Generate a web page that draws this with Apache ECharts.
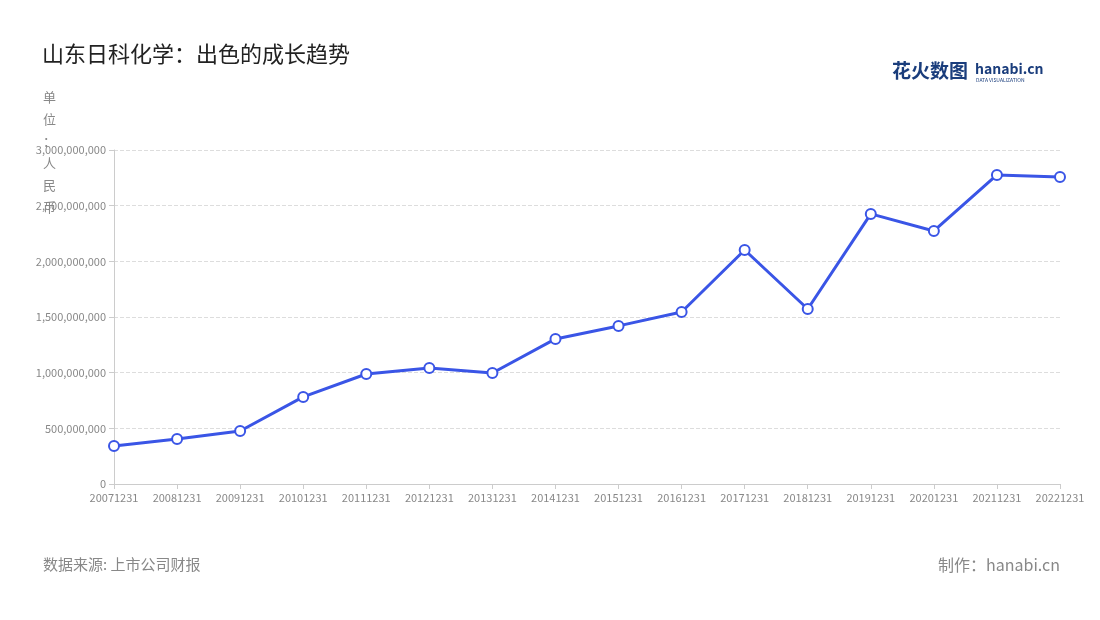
<!DOCTYPE html>
<html><head><meta charset="utf-8">
<script src="https://cdn.jsdelivr.net/npm/echarts@6/dist/echarts.min.js"></script>
<style>html,body{margin:0;padding:0;background:#fff}#c{width:1100px;height:620px}</style>
</head><body><div id="c"></div>
<script>
const categories=['20071231','20081231','20091231','20101231','20111231','20121231','20131231','20141231','20151231','20161231','20171231','20181231','20191231','20201231','20211231','20221231'];
const values=[341000000,404000000,476000000,782000000,988000000,1042000000,997000000,1303000000,1420000000,1545000000,2102000000,1572000000,2426000000,2273000000,2776000000,2758000000];
const chart=echarts.init(document.getElementById('c'));
const F='"Noto Sans CJK SC","Noto Sans",sans-serif';
chart.setOption({
  textStyle:{fontFamily:F},
  title:{text:'山东日科化学：出色的成长趋势',left:37,top:38,textStyle:{fontSize:22,fontWeight:'normal',color:'#222',fontFamily:F}},
  graphic:[
    {type:'text',left:43,top:86,style:{text:'单\n位\n：\n人\n民\n币',fill:'#888',font:'13px '+F,lineHeight:22}},
    {type:'text',left:43,top:557,style:{text:'数据来源: 上市公司财报',fill:'#888',font:'15px '+F}},
    {type:'text',right:40,top:557,style:{text:'制作：hanabi.cn',fill:'#888',font:'16px '+F}},
    {type:'text',left:892,top:61,style:{text:'花火数图',fill:'#1a3d7c',font:'bold 19px '+F}},
    {type:'text',left:975,top:62,style:{text:'hanabi.cn',fill:'#1a3d7c',font:'bold 14px '+F}},
    {type:'text',left:976,top:78,style:{text:'DATA VISUALIZATION',fill:'#1a3d7c',font:'5px '+F}}
  ],
  grid:{left:114,right:40,top:150,bottom:136},
  xAxis:{type:'category',data:categories,boundaryGap:false,
    axisLine:{lineStyle:{color:'#ccc'}},axisTick:{show:true,lineStyle:{color:'#ccc'}},
    axisLabel:{color:'#888',fontSize:11,interval:0,margin:8}},
  yAxis:{type:'value',min:0,max:3000000000,interval:500000000,
    axisLine:{show:true,lineStyle:{color:'#ccc'}},axisTick:{show:true,lineStyle:{color:'#ccc'}},
    splitLine:{lineStyle:{type:'dashed',color:'#ddd'}},
    axisLabel:{color:'#888',fontSize:11,formatter:v=>v.toLocaleString('en-US')}},
  series:[{type:'line',data:values,symbol:'circle',symbolSize:10,
    lineStyle:{color:'#3a55e6',width:3},
    itemStyle:{color:'#fff',borderColor:'#3a55e6',borderWidth:2}}]
});
</script></body></html>
